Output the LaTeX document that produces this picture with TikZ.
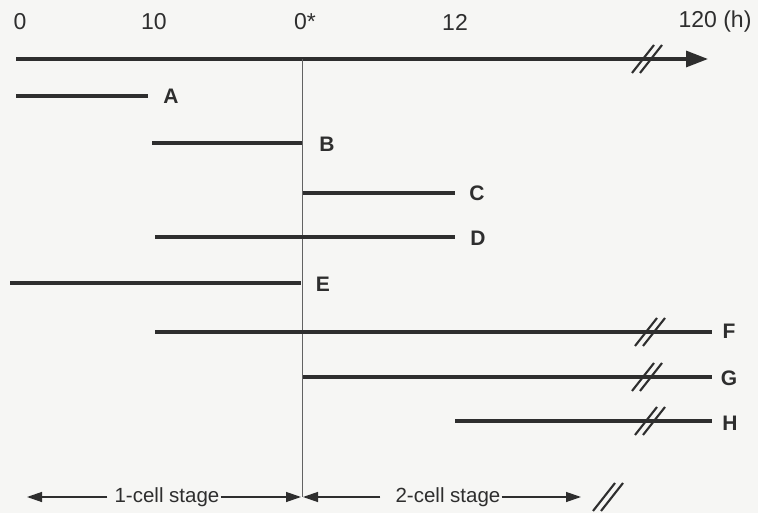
\documentclass[tikz,border=0pt]{standalone}
\usepackage{fontspec}
\setmainfont{Liberation Sans}
\usetikzlibrary{arrows.meta}
\definecolor{ink}{HTML}{2E2E2E}
\definecolor{paper}{HTML}{F6F6F4}
\tikzset{
  bar/.style={draw=ink, line width=3.2pt},
  vline/.style={draw=ink!75, line width=1pt},
  tick/.style={text=ink, font=\fontsize{23}{27}\selectfont, inner sep=0pt},
  lbl/.style={text=ink, font=\fontsize{21}{25}\selectfont\bfseries, inner sep=0pt},
  stage/.style={text=ink, font=\fontsize{20.5}{24}\selectfont, inner sep=1pt},
  slash/.style={draw=ink, line width=2.1pt},
  axisarrow/.style={bar, -{Triangle[length=22pt,width=16pt]}},
  smallarrow/.style={draw=ink, line width=1.3pt, -{Triangle[length=15pt,width=10pt]}},
}
\newcommand{\brkmark}[2]{%
  \draw[slash] (#1-15,#2+14) -- (#1+7,#2-14);
  \draw[slash] (#1-7,#2+14) -- (#1+15,#2-14);
}
\begin{document}
\begin{tikzpicture}[x=1pt,y=-1pt]
\fill[paper] (0,0) rectangle (758,513);
\useasboundingbox (0,0) rectangle (758,513);

% tick labels
\node[tick] (t0) at (20,22) {0};
\node[tick] (t10) at (154,22) {10};
\node[tick] (t0s) at (305,22) {0*};
\node[tick] (t12) at (455,22) {12};
\node[tick] (t120) at (715,22) {120 (h)};

% time axis
\coordinate (ax0) at (16,59);
\coordinate (ax1) at (708,59);
\draw[axisarrow] (ax0) -- (ax1);
\brkmark{647}{59}

% vertical divider at 0*
\coordinate (v0) at (302,59);
\coordinate (v1) at (302,497);
\draw[vline] (v0) -- (v1);

% bars
\node[lbl] (A) at (171,96) {A};
\coordinate (a0) at (16,96);
\draw[bar] (a0) -- (148,96);

\node[lbl] (B) at (327,144) {B};
\coordinate (b0) at (152,143);
\draw[bar] (b0) -- (302,143);

\node[lbl] (C) at (477,193) {C};
\coordinate (c0) at (303,193);
\draw[bar] (c0) -- (455,193);

\node[lbl] (D) at (478,238) {D};
\coordinate (d0) at (155,237);
\draw[bar] (d0) -- (455,237);

\node[lbl] (E) at (323,284) {E};
\coordinate (e0) at (10,283);
\draw[bar] (e0) -- (301,283);

\node[lbl] (F) at (729,331) {F};
\coordinate (f0) at (155,332);
\draw[bar] (f0) -- (712,332);
\brkmark{650}{332}

\node[lbl] (G) at (729,378) {G};
\coordinate (g0) at (303,377);
\draw[bar] (g0) -- (712,377);
\brkmark{647}{377}

\node[lbl] (H) at (730,423) {H};
\coordinate (h0) at (455,421);
\draw[bar] (h0) -- (712,421);
\brkmark{650}{421}

% stage arrows
\node[stage] (s1) at (167,497) {1-cell stage};
\node[stage] (s2) at (448,497) {2-cell stage};
\coordinate (l0) at (27,497);
\coordinate (l1) at (301,497);
\coordinate (r0) at (303,497);
\coordinate (r1) at (581,497);
\draw[smallarrow] (s1.west) ++(-6,0) -- (l0);
\draw[smallarrow] (s1.east) -- (l1);
\draw[smallarrow] (s2.west) ++(-14,0) -- (r0);
\draw[smallarrow] (s2.east) -- (r1);
\brkmark{608}{497}
\end{tikzpicture}
\end{document}
